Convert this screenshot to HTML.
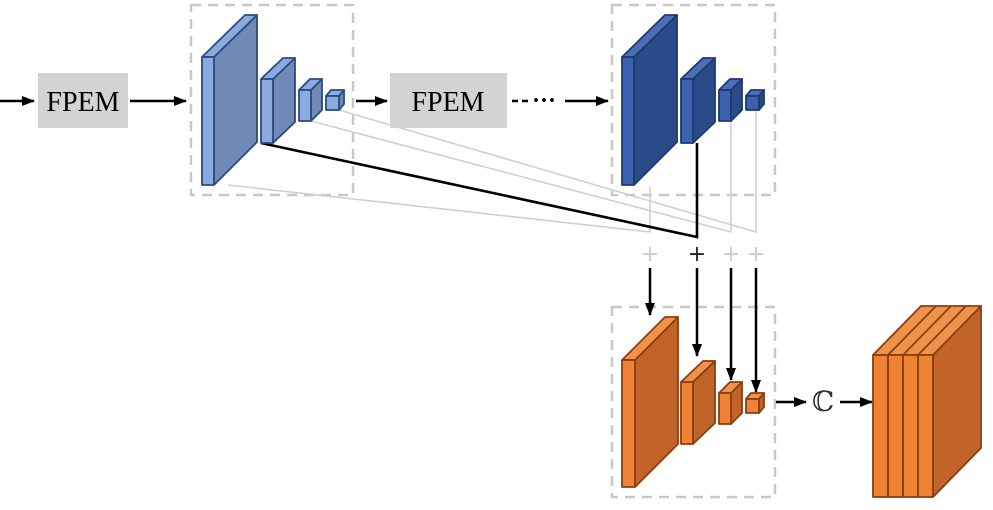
<!DOCTYPE html><html><head><style>body{margin:0;background:#fff}</style></head><body>
<svg width="993" height="505" viewBox="0 0 993 505" xmlns="http://www.w3.org/2000/svg">
<defs>
<marker id="a" markerWidth="13" markerHeight="10" refX="12" refY="5" orient="auto" markerUnits="userSpaceOnUse"><path d="M0,0 L13,5 L0,10z" fill="#000"/></marker>
</defs>
<g fill="none" stroke="#c8c8c8" stroke-width="2.5" stroke-dasharray="10,7">
<rect x="191" y="5" width="162" height="190"/><rect x="612" y="5" width="163" height="190"/><rect x="612" y="307" width="163" height="190"/></g>
<g stroke="#d0d0d0" stroke-width="1.6" fill="none">
<path d="M228,185 L650,232 L650,187"/><path d="M311,121 L731,232 L731,121"/><path d="M339,110 L756,232 L756,110"/></g>
<path d="M261,143 L697,237 L697,143" stroke="#000" stroke-width="2.6" fill="none"/>
<g stroke="#000" stroke-width="2.5" marker-end="url(#a)">
<line x1="0" y1="101" x2="34" y2="101"/><line x1="130" y1="101" x2="186" y2="101"/><line x1="356" y1="101" x2="387" y2="101"/>
<line x1="565" y1="101" x2="608" y2="101"/>
<line x1="650" y1="268" x2="650" y2="315"/><line x1="697" y1="268" x2="697" y2="356"/><line x1="731" y1="268" x2="731" y2="380"/><line x1="756" y1="268" x2="756" y2="392"/>
<line x1="776" y1="402" x2="806" y2="402"/><line x1="840" y1="402" x2="872" y2="402"/></g>
<line x1="512" y1="101" x2="528" y2="101" stroke="#000" stroke-width="2.5" stroke-dasharray="6,4"/>
<text x="532" y="108" font-family="Liberation Serif,serif" font-size="24" font-weight="bold">···</text>
<rect x="38" y="73" width="90" height="55" fill="#d3d3d3"/><rect x="390" y="73" width="117" height="55" fill="#d3d3d3"/>
<text x="83" y="111" font-family="Liberation Serif,serif" font-size="28" text-anchor="middle">FPEM</text>
<text x="448" y="111" font-family="Liberation Serif,serif" font-size="28" text-anchor="middle">FPEM</text>
<g font-family="DejaVu Sans,sans-serif" font-size="22" text-anchor="middle"><text x="650" y="261" fill="#ccc">+</text><text x="697" y="261" fill="#222">+</text><text x="731" y="261" fill="#ccc">+</text><text x="756" y="261" fill="#ccc">+</text></g>
<text x="823" y="411" font-family="DejaVu Serif,serif" font-size="28" text-anchor="middle" fill="#333">ℂ</text>
<g stroke-width="1.8" stroke-linejoin="round">
<g stroke="#2b4a80">
<path d="M214,57 L257,15 L257,142 L214,185Z" fill="#7089b6"/><path d="M202,57 L245,15 L257,15 L214,57Z" fill="#8aaae0"/><rect x="202" y="57" width="12" height="128" fill="#8aaae0"/>
<path d="M273,79 L295,58 L295,122 L273,143Z" fill="#7089b6"/><path d="M261,79 L283,58 L295,58 L273,79Z" fill="#8aaae0"/><rect x="261" y="79" width="12" height="64" fill="#8aaae0"/>
<path d="M311,90 L322,79 L322,110 L311,121Z" fill="#7089b6"/><path d="M299,90 L310,79 L322,79 L311,90Z" fill="#8aaae0"/><rect x="299" y="90" width="12" height="31" fill="#8aaae0"/>
<path d="M339,96 L344,90 L344,104 L339,110Z" fill="#7089b6"/><path d="M326,96 L331,90 L344,90 L339,96Z" fill="#8aaae0"/><rect x="326" y="96" width="13" height="14" fill="#8aaae0"/>
</g>
<g stroke="#1f3a6a">
<path d="M634,57 L677,15 L677,142 L634,185Z" fill="#2a4a8a"/><path d="M622,57 L665,15 L677,15 L634,57Z" fill="#4a6fb8"/><rect x="622" y="57" width="12" height="128" fill="#3b62ae"/>
<path d="M693,79 L715,58 L715,122 L693,143Z" fill="#2a4a8a"/><path d="M681,79 L703,58 L715,58 L693,79Z" fill="#4a6fb8"/><rect x="681" y="79" width="12" height="64" fill="#3b62ae"/>
<path d="M731,90 L742,79 L742,110 L731,121Z" fill="#2a4a8a"/><path d="M719,90 L730,79 L742,79 L731,90Z" fill="#4a6fb8"/><rect x="719" y="90" width="12" height="31" fill="#3b62ae"/>
<path d="M759,96 L764,90 L764,104 L759,110Z" fill="#2a4a8a"/><path d="M746,96 L751,90 L764,90 L759,96Z" fill="#4a6fb8"/><rect x="746" y="96" width="13" height="14" fill="#3b62ae"/>
</g>
<g stroke="#8a3e10">
<path d="M635,360 L678,317 L678,444 L635,487Z" fill="#c2632a"/><path d="M622,360 L665,317 L678,317 L635,360Z" fill="#f0934a"/><rect x="622" y="360" width="13" height="127" fill="#ef8235"/>
<path d="M693,382 L715,361 L715,423 L693,444Z" fill="#c2632a"/><path d="M681,382 L703,361 L715,361 L693,382Z" fill="#f0934a"/><rect x="681" y="382" width="12" height="62" fill="#ef8235"/>
<path d="M731,393 L742,382 L742,413 L731,424Z" fill="#c2632a"/><path d="M719,393 L730,382 L742,382 L731,393Z" fill="#f0934a"/><rect x="719" y="393" width="12" height="31" fill="#ef8235"/>
<path d="M759,399 L764,393 L764,407 L759,413Z" fill="#c2632a"/><path d="M746,399 L751,393 L764,393 L759,399Z" fill="#f0934a"/><rect x="746" y="399" width="13" height="14" fill="#ef8235"/>
<path d="M933,355 L981,306 L981,448 L933,497Z" fill="#c2632a"/><path d="M873,355 L921,306 L981,306 L933,355Z" fill="#f0934a"/>
<path d="M888,355 L936,306 M903,355 L951,306 M918,355 L966,306" fill="none"/>
<rect x="873" y="355" width="15" height="142" fill="#ef8235"/><rect x="888" y="355" width="15" height="142" fill="#ef8235"/><rect x="903" y="355" width="15" height="142" fill="#ef8235"/><rect x="918" y="355" width="15" height="142" fill="#ef8235"/>
</g></g>
</svg></body></html>
